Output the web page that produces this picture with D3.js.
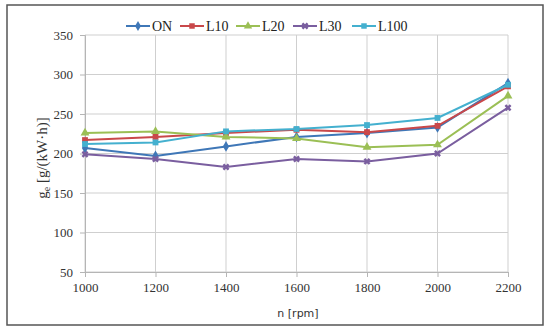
<!DOCTYPE html>
<html>
<head>
<meta charset="utf-8">
<script src="https://cdn.jsdelivr.net/npm/d3@7"></script>
<style>
  body { margin: 0; background: #fff; }
  svg { display: block; }
</style>
</head>
<body>
<div id="chart"></div>
<script>
// chart data
const rpm = [1000, 1200, 1400, 1600, 1800, 2000, 2200];
const seriesNames = ['ON', 'L10', 'L20', 'L30', 'L100'];
const onValues   = [207, 197, 209, 221, 226, 233, 289];
const l10Values  = [217, 221, 226, 230, 227, 235, 285];
const l20Values  = [226, 228, 221, 219, 208, 211, 273];
const l30Values  = [199, 193, 183, 193, 190, 200, 258];
const l100Values = [212, 214, 228, 231, 236, 245, 287];
const yTicks = [50, 100, 150, 200, 250, 300, 350];

const width = 550, height = 335;
const margin = { left: 85, right: 42, top: 35, bottom: 63 };

const colors = ['#3f77b7', '#c9484a', '#9bbf55', '#7a5e9f', '#44b0cf'];
const symbols = [d3.symbolDiamond, d3.symbolSquare, d3.symbolTriangle, d3.symbolCross, d3.symbolSquare];
const allValues = [onValues, l10Values, l20Values, l30Values, l100Values];

const series = seriesNames.map((name, i) => ({
  name: name,
  color: colors[i],
  symbol: symbols[i],
  values: allValues[i].map((v, j) => ({ x: rpm[j], y: v })),
}));

const svg = d3.select('#chart').append('svg')
  .attr('width', width)
  .attr('height', height);

// outer frame
svg.append('rect')
  .attr('x', 7).attr('y', 5)
  .attr('width', 536).attr('height', 320)
  .attr('fill', '#fff')
  .attr('stroke', '#555')
  .attr('stroke-width', 1.5);

const x = d3.scaleLinear()
  .domain([1000, 2200])
  .range([margin.left, width - margin.right]);

const y = d3.scaleLinear()
  .domain([50, 350])
  .range([height - margin.bottom, margin.top]);

// gridlines
svg.append('g')
  .selectAll('line.h')
  .data(yTicks)
  .enter()
  .append('line')
  .attr('x1', x(1000)).attr('x2', x(2200))
  .attr('y1', (d) => y(d)).attr('y2', (d) => y(d))
  .attr('stroke', '#cfcfcf')
  .attr('stroke-width', 1);

svg.append('g')
  .selectAll('line.v')
  .data(rpm)
  .enter()
  .append('line')
  .attr('x1', (d) => x(d)).attr('x2', (d) => x(d))
  .attr('y1', y(50)).attr('y2', y(350))
  .attr('stroke', '#cfcfcf')
  .attr('stroke-width', 1);

// axes
const xAxis = d3.axisBottom(x).tickValues(rpm).tickSize(5).tickPadding(6).tickFormat(d3.format('d'));
const yAxis = d3.axisLeft(y).tickValues(yTicks).tickSize(5).tickPadding(7);

const gx = svg.append('g')
  .attr('transform', `translate(0, ${y(50)})`)
  .call(xAxis);
const gy = svg.append('g')
  .attr('transform', `translate(${x(1000)}, 0)`)
  .call(yAxis);

[gx, gy].forEach((g) => {
  g.select('.domain').attr('stroke', '#b5b5b5');
  g.selectAll('.tick line').attr('stroke', '#b5b5b5');
  g.selectAll('text')
    .attr('font-family', '"Liberation Serif", serif')
    .attr('font-size', '13px')
    .attr('fill', '#333');
});

// axis titles
svg.append('text')
  .attr('x', 298)
  .attr('y', 317)
  .attr('text-anchor', 'middle')
  .attr('font-family', '"DejaVu Sans", sans-serif')
  .attr('font-size', '11px')
  .attr('fill', '#333')
  .text('n [rpm]');

const yTitle = svg.append('text')
  .attr('transform', 'translate(47, 158) rotate(-90)')
  .attr('text-anchor', 'middle')
  .attr('font-family', '"Liberation Serif", serif')
  .attr('font-size', '15px')
  .attr('fill', '#333');
yTitle.append('tspan').text('g');
yTitle.append('tspan').attr('font-size', '10px').attr('dy', 3).text('e');
yTitle.append('tspan').attr('dy', -3).text(' [g/(kW·h)]');

// lines and markers
const line = d3.line().x((d) => x(d.x)).y((d) => y(d.y));

series.forEach((s) => {
  svg.append('path')
    .datum(s.values)
    .attr('d', line)
    .attr('fill', 'none')
    .attr('stroke', s.color)
    .attr('stroke-width', 2);

  svg.append('g')
    .selectAll('path')
    .data(s.values)
    .enter()
    .append('path')
    .attr('transform', (d) => `translate(${x(d.x)}, ${y(d.y)})` + (s.symbol === d3.symbolCross ? ' rotate(45)' : ''))
    .attr('d', d3.symbol().type(s.symbol).size(s.symbol === d3.symbolCross ? 30 : 34))
    .attr('fill', s.color);
});

// legend
const legendX = [126, 180, 236, 293, 352];
const legend = svg.append('g');
series.forEach((s, i) => {
  const lx = legendX[i];
  legend.append('line')
    .attr('x1', lx).attr('x2', lx + 24)
    .attr('y1', 26).attr('y2', 26)
    .attr('stroke', s.color)
    .attr('stroke-width', 2);
  legend.append('path')
    .attr('transform', `translate(${lx + 12}, 26)` + (s.symbol === d3.symbolCross ? ' rotate(45)' : ''))
    .attr('d', d3.symbol().type(s.symbol).size(30))
    .attr('fill', s.color);
  legend.append('text')
    .attr('x', lx + 26)
    .attr('y', 31)
    .attr('font-family', '"Liberation Serif", serif')
    .attr('font-size', '14px')
    .attr('fill', '#222')
    .text(s.name);
});
</script>
</body>
</html>
